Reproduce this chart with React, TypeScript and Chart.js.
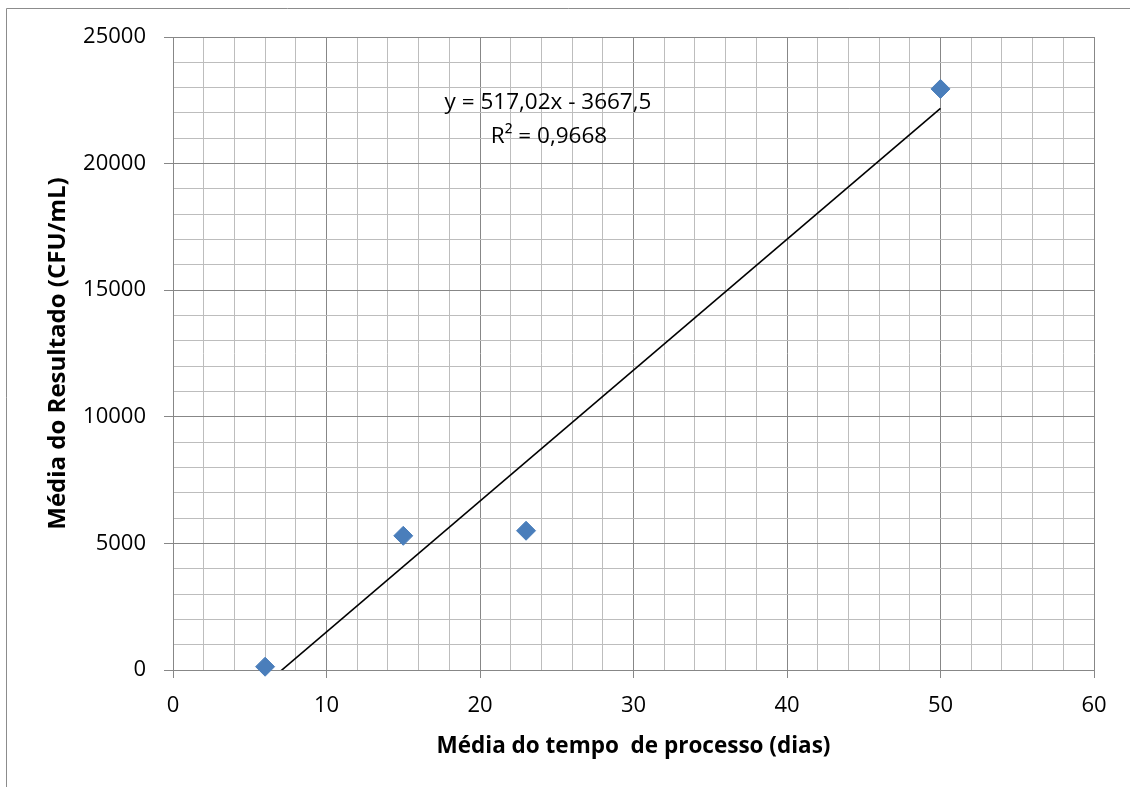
import React, { useEffect, useRef } from "react";
import { Chart, registerables } from "chart.js";

Chart.register(...registerables);

const xValues = [6, 15, 23, 50];
const yValues = [130, 5300, 5500, 22950];
const trendSlope = 517.02;
const trendIntercept = -3667.5;
const trendRange = [6, 50];
const equationLines = ["y = 517,02x - 3667,5", "R² = 0,9668"];
const xTitle = "Média do tempo  de processo (dias)";
const yTitle = "Média do Resultado (CFU/mL)";
const xMin = 0, xMax = 60, xMinorStep = 2, xMajorStep = 10;
const yMin = 0, yMax = 25000, yMinorStep = 1000, yMajorStep = 5000;

const FONT = "'Open Sans', sans-serif";
const MAJOR = "#878787";
const MINOR = "#bdbdbd";

export default function App() {
  const ref = useRef<HTMLCanvasElement>(null);
  useEffect(() => {
    const canvas = ref.current!;
    const frame = {
      id: "frame",
      beforeDraw(chart: any) {
        const ctx = chart.ctx;
        ctx.save();
        ctx.fillStyle = "#fff";
        ctx.fillRect(0, 0, chart.width, chart.height);
        ctx.strokeStyle = "#8c8c8c";
        ctx.lineWidth = 1;
        ctx.beginPath();
        ctx.moveTo(6.5, chart.height);
        ctx.lineTo(6.5, 8.5);
        ctx.lineTo(chart.width, 8.5);
        ctx.stroke();
        ctx.restore();
      },
      afterDatasetsDraw(chart: any) {
        const ctx = chart.ctx;
        ctx.save();
        ctx.fillStyle = "#000";
        ctx.font = `22.5px ${FONT}`;
        ctx.textAlign = "center";
        ctx.textBaseline = "middle";
        ctx.fillText(equationLines[0], 548, 103);
        ctx.fillText(equationLines[1], 549, 137);
        ctx.restore();
      },
    };
    const trend = trendRange.map((x) => ({ x, y: trendSlope * x + trendIntercept }));
    const chart = new Chart(canvas, {
      type: "scatter",
      data: {
        datasets: [
          {
            type: "line",
            data: trend,
            borderColor: "#000",
            borderWidth: 1.6,
            pointRadius: 0,
            fill: false,
            clip: 0,
            order: 2,
          } as any,
          {
            data: xValues.map((x, i) => ({ x, y: yValues[i] })),
            backgroundColor: "#4a7ebb",
            borderColor: "#4a7ebb",
            borderWidth: 1,
            pointStyle: "rectRot",
            pointRadius: 9.5,
            clip: false,
            order: 1,
          } as any,
        ],
      },
      options: {
        animation: false,
        responsive: false,
        events: [],
        layout: { padding: { top: 37, right: 36, left: 0, bottom: 0 } },
        plugins: { legend: { display: false }, tooltip: { enabled: false } },
        scales: {
          x: {
            type: "linear",
            min: xMin,
            max: xMax,
            afterFit: (s: any) => { s.height = 117; },
            ticks: {
              stepSize: xMinorStep,
              autoSkip: false,
              maxRotation: 0,
              padding: 15,
              color: "#000",
              font: { family: FONT, size: 22 },
              callback: (v: any) => (v % xMajorStep === 0 ? String(v) : ""),
            },
            grid: {
              color: (c: any) => (c.tick && c.tick.value % xMajorStep === 0 ? MAJOR : MINOR),
              tickColor: (c: any) => (c.tick && c.tick.value % xMajorStep === 0 ? MAJOR : "rgba(0,0,0,0)"),
              tickLength: 8,
              lineWidth: 1,
            },
            border: { color: MAJOR, width: 1 },
            title: {
              display: true,
              text: xTitle,
              color: "#000",
              font: { family: FONT, size: 22.5, weight: "bold", lineHeight: 1.2 },
              padding: { top: 0, bottom: 26.5 },
            },
          },
          y: {
            type: "linear",
            min: yMin,
            max: yMax,
            afterFit: (s: any) => { s.width = 173; },
            ticks: {
              stepSize: yMinorStep,
              autoSkip: false,
              padding: 18,
              color: "#000",
              font: { family: FONT, size: 22 },
              callback: (v: any) => (v % yMajorStep === 0 ? String(v) : ""),
            },
            grid: {
              color: (c: any) => (c.tick && c.tick.value % yMajorStep === 0 ? MAJOR : MINOR),
              tickColor: (c: any) => (c.tick && c.tick.value % yMajorStep === 0 ? MAJOR : "rgba(0,0,0,0)"),
              tickLength: 9,
              lineWidth: 1,
            },
            border: { color: MAJOR, width: 1 },
            title: {
              display: true,
              text: yTitle,
              color: "#000",
              font: { family: FONT, size: 24, weight: "bold", lineHeight: 1.2 },
              padding: { top: 43.5, bottom: 0 },
            },
          },
        },
      },
      plugins: [frame],
    });
    return () => chart.destroy();
  }, []);
  return (
    <div style={{ position: "absolute", left: 0, top: 0, width: 1130, height: 787, overflow: "hidden" }}>
      <canvas ref={ref} width={1130} height={787} style={{ display: "block", width: 1130, height: 787 }} />
    </div>
  );
}
